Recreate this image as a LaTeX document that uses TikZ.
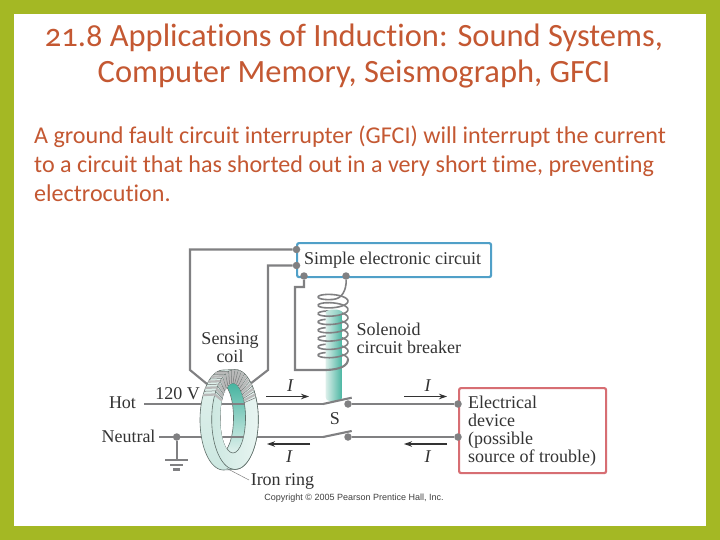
\documentclass[tikz,border=0pt]{standalone}
\usepackage{fontspec}
\setmainfont{Carlito}[Numbers=OldStyle,Ligatures=CommonOff]
\newfontfamily\figfont{Liberation Serif}
\newfontfamily\copyfont{Liberation Sans}
\usetikzlibrary{arrows.meta}
\definecolor{framegreen}{RGB}{164,184,36}
\definecolor{titlered}{RGB}{196,88,50}
\definecolor{wiregray}{RGB}{128,128,130}
\definecolor{boxblue}{RGB}{80,160,200}
\definecolor{boxred}{RGB}{215,110,115}
\definecolor{teal1}{RGB}{70,180,160}
\definecolor{teal2}{RGB}{205,232,225}
\definecolor{edgegray}{RGB}{95,110,105}
\tikzset{
 wire/.style={draw=wiregray,line width=2.1pt},
 thinwire/.style={draw=wiregray,line width=1.6pt,line join=round},
 dotnode/.style={circle,fill=wiregray,inner sep=0pt,minimum size=7.5pt},
 figlabel/.style={font=\figfont\fontsize{18}{18.2}\selectfont,text=black!80,inner sep=0pt},
 figleft/.style={figlabel,anchor=west,align=left},
 ilabel/.style={font=\figfont\itshape\fontsize{18}{18}\selectfont,text=black!80,inner sep=0pt},
 title/.style={font=\fontsize{32.5}{36}\selectfont,text=titlered,align=center,inner sep=0pt},
 bodytext/.style={font=\fontsize{24.1}{28.7}\selectfont,text=titlered,align=left,anchor=north west,inner sep=0pt},
 curarrow/.style={draw=black!80,line width=1.1pt,-{Stealth[length=8pt,width=5.5pt]}},
 ibox/.style={rounded corners=2pt,line width=2.2pt,fill=white,inner sep=0pt},
 ringedge/.style={draw=edgegray,line width=0.6pt}
}
\begin{document}
\begin{tikzpicture}[x=1pt,y=-1pt]
\useasboundingbox (0,0) rectangle (720,540);
\fill[framegreen] (0,0) rectangle (720,540);
\fill[white] (14,14) rectangle (706,526);
\node[title] (t) at (354,56) {21.8 Applications of Induction: Sound Systems,\\Computer Memory, Seismograph, GFCI};
\node[bodytext] (b) at (34,126) {A ground fault circuit interrupter (GFCI) will interrupt the current\\to a circuit that has shorted out in a very short time, preventing\\electrocution.};
% boxes
\node[ibox,draw=boxblue,minimum width=194pt,minimum height=34pt,anchor=north west] (cb) at (296,242) {};
\node[ibox,draw=boxred,minimum width=147pt,minimum height=85pt,anchor=north west] (db) at (458,387) {};
\node[figleft] (cbt) at (304,260.5) {Simple electronic circuit};
\node[figleft] (dbt) at (468,431) {Electrical\\device\\(possible\\source of trouble)};
\node[figleft] (sol) at (356.5,338) {Solenoid\\circuit breaker};
\node[figlabel,align=center] (sc) at (230,347.7) {Sensing\\coil};
\node[figlabel] (hot) at (122.5,403) {Hot};
\node[figlabel] (neu) at (128.5,436) {Neutral};
\node[figlabel] (v) at (177.5,394) {120 V};
\node[figlabel] (s) at (335,418.3) {S};
\node[figlabel] (iron) at (282.5,481.5) {Iron ring};
\node[font=\copyfont\fontsize{9}{10}\selectfont,text=black!75,inner sep=0pt] (c) at (354,498.5) {Copyright © 2005 Pearson Prentice Hall, Inc.};
% dots
\node[dotnode] (d1) at (296.5,249.5) {};
\node[dotnode] (d2) at (296.5,265.5) {};
\node[dotnode] (d3) at (304,276) {};
\node[dotnode] (d4) at (346,276) {};
\node[dotnode] (dh) at (348,404) {};
\node[dotnode] (dn) at (348,437) {};
\node[dotnode] (de1) at (458,404) {};
\node[dotnode] (de2) at (458,437) {};
\node[dotnode] (dg) at (176.7,437) {};
% free ends
\coordinate (hl) at (144,404);
\coordinate (nl) at (159,437);
\coordinate (ground) at (176.7,460);
\coordinate (ha) at (323,404);
\coordinate (na) at (323,437);
\coordinate (hb) at (351.7,397.7);
\coordinate (nb) at (351.7,431);
\coordinate (la) at (207,384);
\coordinate (ra) at (250,384);
\coordinate (leadA) at (226.7,468.3);
\coordinate (leadB) at (249,480);
% sense wires
\draw[wire] (d1) -| (190,370) -- (la);
\draw[wire] (d2) -| (268,370) -- (ra);
% hot and neutral lines
\draw[wire] (hl) -- (ha);
\draw[wire] (nl) -- (na);
\draw[wire] (dh) -- (de1);
\draw[wire] (dn) -- (de2);
\draw[wire] (dg) -- (ground);
\draw[wire] (165,460) -- (188,460);
\draw[wire] (170,465) -- (183,465);
\draw[wire] (173,469.5) -- (180,469.5);
% iron ring: side of the ring
\shade[top color=teal2!60!white,middle color=teal1!75!white,bottom color=teal2,ringedge]
  plot[variable=\t,domain=90:270,samples=40] ({223.3+23.3*cos(\t)},{420+50*sin(\t)})
  -- plot[variable=\t,domain=-90:90,samples=40] ({235+23.3*cos(\t)},{419.5+50*sin(\t)}) -- cycle;
% front face
\shade[left color=teal2,right color=teal2!45!white,ringedge] (235,419.5) ellipse (23.3 and 50);
% hole: inner wall
\shade[top color=teal1,middle color=teal1!80!white,bottom color=teal2!60!white,ringedge] (233,418) ellipse (12.5 and 35);
\begin{scope}
\clip (233,418) ellipse (12.5 and 35);
\fill[white] (221,418) ellipse (12.5 and 35);
\draw[ringedge] (221,418) ellipse (12.5 and 35);
\draw[wire] (200,404) -- (246,404);
\draw[wire] (200,437) -- (246,437);
\end{scope}
% windings
\foreach \a in {-150,-142,...,-30}{
  \draw[draw=gray!55,line width=2.3pt] ({233+12.5*cos(\a)},{418+35*sin(\a)}) -- ({235+23.3*cos(\a)},{419.5+50*sin(\a)});
}
\foreach \a in {-150,-142,...,-30}{
  \draw[draw=gray!90!black,line width=0.5pt] ({233+12.5*cos(\a+4)},{418+35*sin(\a+4)}) -- ({235+23.3*cos(\a+4)},{419.5+50*sin(\a+4)});
}
\foreach \a in {-150,-140,...,-110}{
  \draw[draw=gray!55,line width=2.3pt] ({235+23.3*cos(\a)},{419.5+50*sin(\a)}) -- ({223.3+23.3*cos(\a)},{420+50*sin(\a)});
  \draw[draw=gray!90!black,line width=0.5pt] ({235+23.3*cos(\a+5)},{419.5+50*sin(\a+5)}) -- ({223.3+23.3*cos(\a+5)},{420+50*sin(\a+5)});
}
\draw[draw=gray,line width=0.5pt] (leadA) -- (leadB);
% solenoid, back half of each turn
\foreach \k in {0,...,7}{
  \draw[thinwire] plot[variable=\t,domain={180+360*\k}:{360+360*\k},samples=15] ({333+15*cos(\t)},{292.85+\t/360*8.3+4.5*sin(\t)});
}
% core
\shade[left color=teal2!70!white,right color=teal1,rounded corners=4pt] (325.6,312) -- (325.6,401) -- (342.3,401) -- (342.3,312) [sharp corners] -- cycle;
\shade[left color=teal2,right color=teal1!70!white] (334,312.5) ellipse (8.35 and 3);
% solenoid, front half of each turn
\draw[thinwire] plot[variable=\t,domain=90:180,samples=8] ({333+15*cos(\t)},{292.85+\t/360*8.3+4.5*sin(\t)});
\foreach \k in {0,...,6}{
  \draw[thinwire] plot[variable=\t,domain={360+360*\k}:{540+360*\k},samples=15] ({333+15*cos(\t)},{292.85+\t/360*8.3+4.5*sin(\t)});
}
\draw[thinwire] (d4) .. controls (346.5,290) and (342,299) .. (333,299.4);
% lower solenoid wire
\draw[wire] (d3) |- (295,287) -- (295,370) -- (326,370) .. controls (340,369.5) and (348,366) .. (348,359);
% switch arms
\draw[wire] (ha) -- (hb);
\draw[wire] (na) -- (nb);
% current arrows
\coordinate (a1s) at (266,396.5); \coordinate (a1e) at (309,396.5);
\coordinate (a2s) at (404,396.5); \coordinate (a2e) at (447,396.5);
\coordinate (a3s) at (310,444); \coordinate (a3e) at (267,444);
\coordinate (a4s) at (447,444); \coordinate (a4e) at (404,444);
\draw[curarrow] (a1s) -- (a1e);
\draw[curarrow] (a2s) -- (a2e);
\draw[curarrow] (a3s) -- (a3e);
\draw[curarrow] (a4s) -- (a4e);
\node[ilabel] (i1) at (290,385.5) {I};
\node[ilabel] (i2) at (427.7,385.5) {I};
\node[ilabel] (i3) at (289,456.7) {I};
\node[ilabel] (i4) at (427.7,456.7) {I};
\end{tikzpicture}
\end{document}
